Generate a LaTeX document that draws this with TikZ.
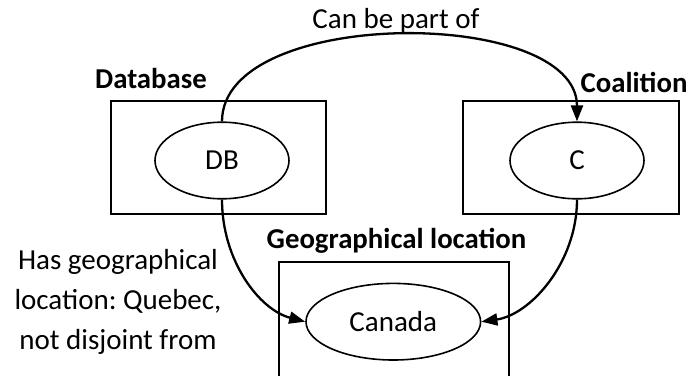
\documentclass[tikz,border=0pt]{standalone}
\usepackage{fontspec}
\setmainfont{Carlito}
\usetikzlibrary{arrows.meta,shapes.geometric}
\frenchspacing
\begin{document}
\begin{tikzpicture}[x=1pt,y=-1pt,
  frame/.style={draw,line width=1.8pt,rectangle,inner sep=0pt},
  entity/.style={ellipse,draw,line width=1.6pt,inner sep=0pt,
    font=\fontsize{29}{34}\selectfont},
  conn/.style={line width=2.3pt,-{Triangle[length=16pt,width=12pt]}},
  lbl/.style={font=\fontsize{29}{34}\selectfont,anchor=base,inner sep=0pt},
  title/.style={font=\fontsize{28.8}{34}\selectfont\bfseries,anchor=base,inner sep=0pt}]
\useasboundingbox (0,0) rectangle (691,375);

% class frames
\node[frame,minimum width=215pt,minimum height=113.6pt] (dbframe) at (218.5,157.5) {};
\node[frame,minimum width=216pt,minimum height=113.6pt] (cframe) at (571,157.5) {};
\draw[line width=1.8pt] (279,378) -- (279,261.7) -- (509,261.7) -- (509,378);

% frame titles
\node[title] (dbtitle) at (151,88) {Database};
\node[title] (ctitle) at (634,92.5) {Coalition};
\node[title] (geotitle) at (396.5,248) {Geographical location};

% instances
\node[entity,minimum width=134pt,minimum height=76.6pt] (db) at (222,160.5) {DB};
\node[entity,minimum width=134pt,minimum height=76.6pt] (c) at (577,160.5) {C};
\node[entity,minimum width=174.6pt,minimum height=76.6pt] (canada) at (393.3,321.7) {Canada};

% relations
\draw[conn] (db.north) .. controls +(0,-115) and +(0,-115) .. (c.north);
\draw[conn] (db.south) .. controls +(0,61) and +(-46,-12) .. (canada.west);
\draw[conn] (c.south) .. controls +(0,63) and +(49,-7) .. (canada.east);

% relation labels
\node[lbl] (partof) at (396,28) {Can be part of};
\node[lbl] (geoloc1) at (118,269) {Has geographical};
\node[lbl] (geoloc2) at (118,309) {location: Quebec,};
\node[lbl] (geoloc3) at (118,349) {not disjoint from};
\end{tikzpicture}
\end{document}
